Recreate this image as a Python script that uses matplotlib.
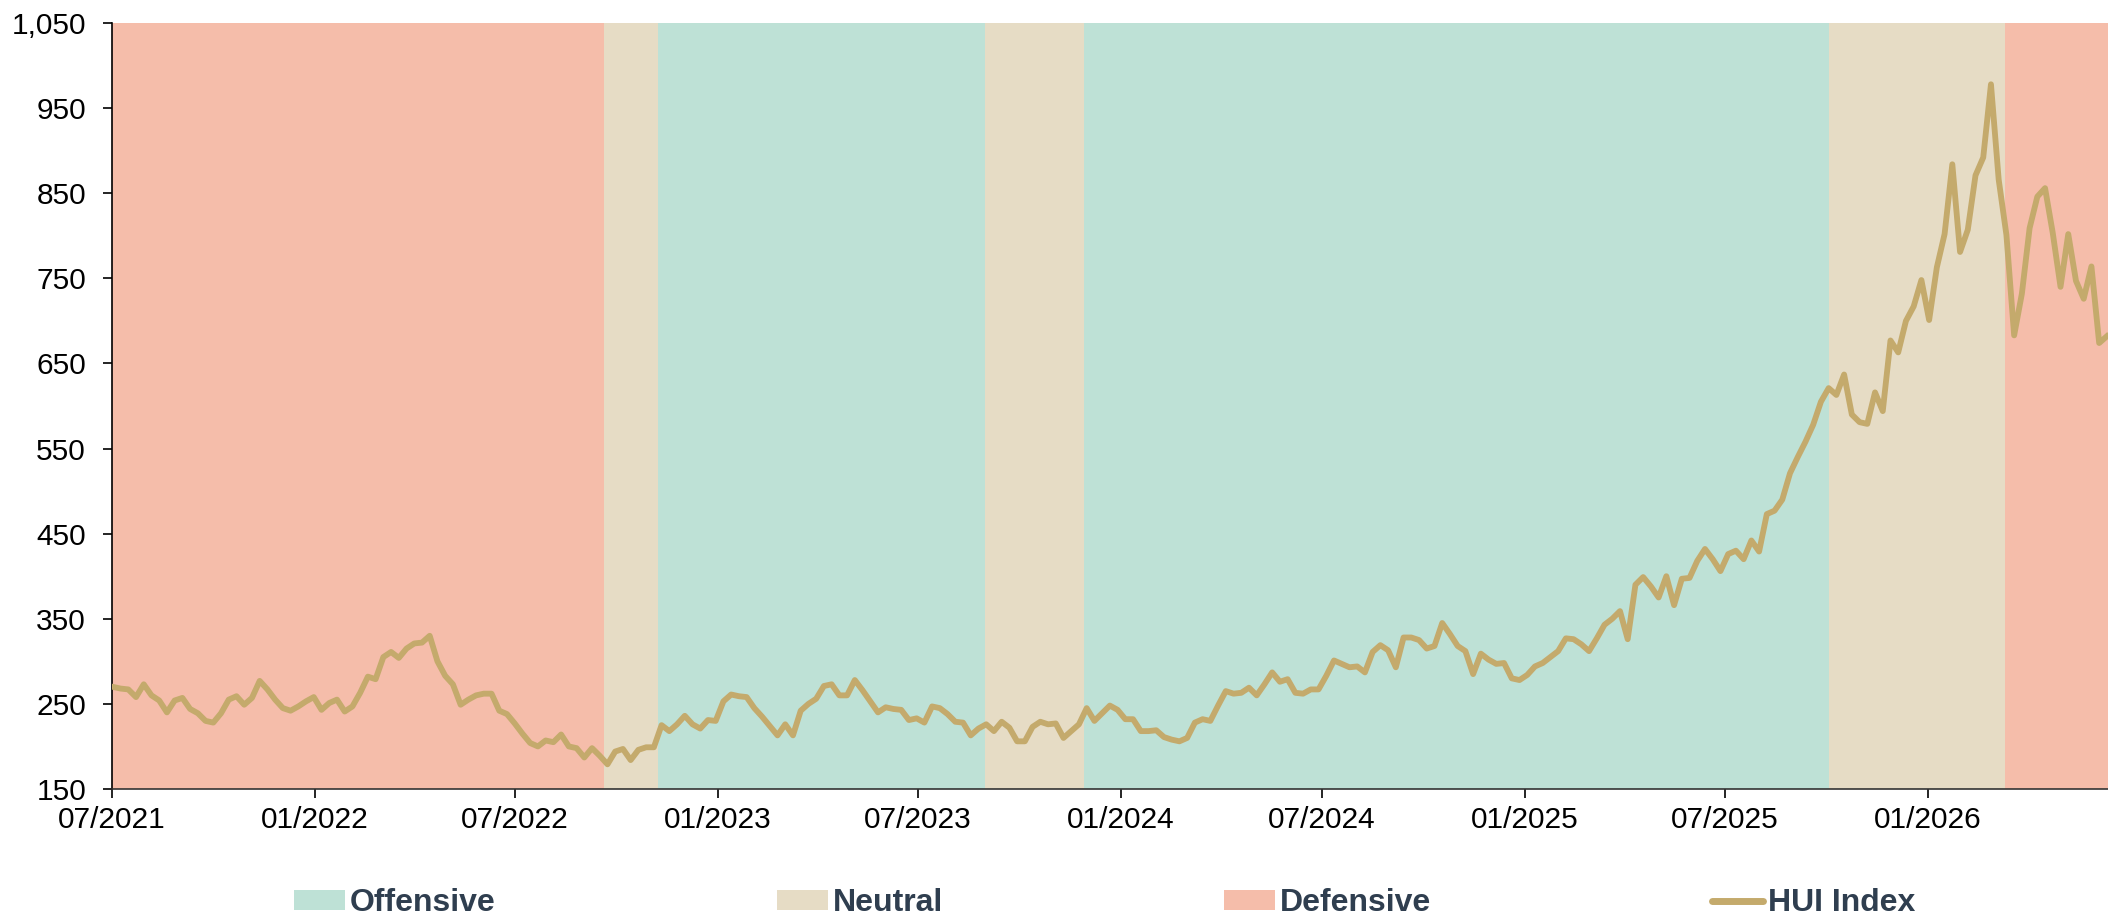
import numpy as np
import pandas as pd
import matplotlib
matplotlib.use("Agg")
import matplotlib.pyplot as plt
import matplotlib.dates as mdates
from matplotlib.patches import Patch
from matplotlib.lines import Line2D
from matplotlib.ticker import FuncFormatter

plt.rcParams['font.family'] = ['Liberation Sans', 'DejaVu Sans']

# weekly HUI index values
hui = [
    270, 268, 267, 258, 273, 260, 254, 240, 254, 257,
    244, 239, 230, 228, 239, 255, 259, 249, 257, 277,
    267, 255, 245, 242, 247, 253, 258, 243, 251, 255,
    241, 247, 263, 282, 279, 305, 311, 304, 315, 321,
    322, 330, 300, 283, 273,
    249, 255, 260, 262, 262, 242, 238, 227, 215, 204,
    200, 207, 205, 214, 200, 198, 187, 198, 189, 179,
    194, 197, 184, 196, 199, 199, 225, 218, 226, 236,
    226, 221, 231, 230, 253, 261, 259, 258, 245, 235,
    224, 213, 226,
    213, 242, 250, 256, 271, 273, 260, 260, 278, 266,
    253, 240, 246, 244, 243, 231, 233, 228, 247, 245,
    238, 229, 228, 213, 221, 226, 218, 229, 222, 206,
    206, 223, 229, 226, 227, 210, 218, 226, 245, 230,
    239, 248, 243,
    232, 232, 218, 218, 219, 211, 208, 206, 210, 228,
    232, 230, 248, 265, 262, 263, 269, 260, 273, 287,
    276, 279, 263, 262, 267, 267, 283, 301, 297, 293,
    294, 287, 311, 319, 313, 293, 328, 328, 325, 315,
    318, 345, 332,
    318, 312, 285, 309, 302, 297, 298, 280, 278, 284,
    294, 298, 305, 312, 327, 326, 320, 312, 327, 343,
    350, 359, 326, 390, 399, 388, 375, 400, 366, 397,
    398, 418, 432, 420, 406, 426, 430, 420, 442, 429,
    473, 477, 490, 521,
    540, 558, 578, 605, 621, 613, 637, 590, 581, 579,
    616, 594, 677, 663, 700, 717, 748, 701, 763, 802,
    884, 781, 807, 871, 892, 978, 866, 801, 683, 732,
    809, 846, 856, 803, 740, 802, 747, 726, 764, 674,
    682,
]
start_date = '2021-07-02'

# regime periods
band_edges = ['2021-07-01', '2022-09-20', '2022-11-08', '2023-08-31',
              '2023-11-29', '2025-10-03', '2026-03-12', '2026-06-13']
band_regimes = ['Defensive', 'Neutral', 'Offensive', 'Neutral',
                'Offensive', 'Neutral', 'Defensive']

regime_colors = {'Offensive': '#BEE1D6', 'Neutral': '#E6DCC5', 'Defensive': '#F5BDAA'}
line_color = '#C4AA6C'
text_color = '#2F3E4F'

dates = pd.date_range(start_date, periods=len(hui), freq='7D')
edges = pd.to_datetime(band_edges)

fig = plt.figure(figsize=(21.08, 9.17), dpi=100)
ax = fig.add_axes([0.053, 0.1396, 0.947, 0.8353])

for i, reg in enumerate(band_regimes):
    ax.axvspan(edges[i], edges[i + 1], color=regime_colors[reg], lw=0, zorder=0)

ax.plot(dates, hui, color=line_color, lw=4.2, zorder=3)

ax.set_xlim(edges[0], edges[-1])
ax.set_ylim(150, 1050)
ax.set_yticks(np.arange(150, 1051, 100))
ax.yaxis.set_major_formatter(FuncFormatter(lambda v, p: f'{int(v):,}'))
ax.xaxis.set_major_locator(mdates.MonthLocator(bymonth=[1, 7]))
ax.xaxis.set_major_formatter(mdates.DateFormatter('%m/%Y'))

for s in ['top', 'right']:
    ax.spines[s].set_visible(False)
ax.spines['left'].set_linewidth(1.2)
ax.spines['bottom'].set_linewidth(1.2)
ax.spines['bottom'].set_color('#333333')
ax.tick_params(axis='both', labelsize=21.5, length=6.5, width=1.2, colors='black')
ax.tick_params(axis='y', pad=12)
ax.tick_params(axis='x', pad=6)

handles = [Patch(facecolor=regime_colors['Offensive'], edgecolor='none'),
           Patch(facecolor=regime_colors['Neutral'], edgecolor='none'),
           Patch(facecolor=regime_colors['Defensive'], edgecolor='none'),
           Line2D([], [], color=line_color, lw=5, solid_capstyle='round')]
labels = ['Offensive', 'Neutral', 'Defensive', 'HUI Index']
leg = fig.legend(handles, labels, loc='center', bbox_to_anchor=(0.524, 0.015),
                 ncol=4, frameon=False, handlelength=1.6, handleheight=0.55,
                 handletextpad=0.15, columnspacing=8.8,
                 prop={'size': 23, 'weight': 'bold'})
for t in leg.get_texts():
    t.set_color(text_color)

fig.savefig('out.png', dpi=100)
